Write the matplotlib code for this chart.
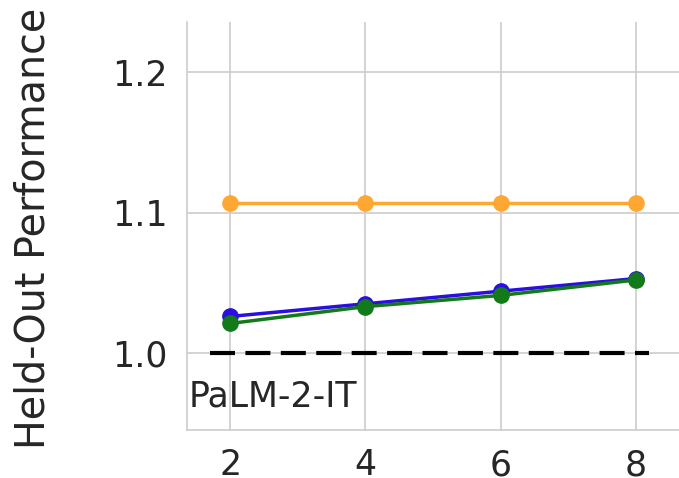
import matplotlib
matplotlib.use("Agg")
import matplotlib.pyplot as plt

x_vals = [2, 4, 6, 8]
orange_vals = [1.107, 1.107, 1.107, 1.107]
blue_vals = [1.026, 1.035, 1.044, 1.053]
green_vals = [1.021, 1.033, 1.041, 1.052]
baseline = 1.0
baseline_label = "PaLM-2-IT"
xticks = [2, 4, 6, 8]
yticks = [1.0, 1.1, 1.2]

fig = plt.figure(figsize=(6.79, 4.78), dpi=100)
ax = fig.add_axes([187/679, 48/478, 492/679, 408/478])

ax.plot(x_vals, orange_vals, color="#FFA733", lw=2.5, marker="o", ms=11, zorder=3)
ax.plot(x_vals, blue_vals, color="#2A0FE0", lw=2.5, marker="o", ms=11, zorder=3)
ax.plot(x_vals, green_vals, color="#137A1A", lw=2.5, marker="o", ms=11, zorder=4)
ax.plot([1.7, 8.2], [baseline, baseline], color="black", lw=3, ls=(0, (6, 2.5)), zorder=5)
ax.text(1.38, 0.969, baseline_label, fontsize=25, color="#262626", va="center", ha="left")

ax.set_xlim(1.36, 8.64)
ax.set_ylim(0.945, 1.236)
ax.set_xticks(xticks)
ax.set_yticks(yticks)
ax.set_yticklabels([f"{v:.1f}" for v in yticks])
ax.grid(True, color="#cccccc", lw=1.2)
ax.set_axisbelow(True)
for s in ["top", "right"]:
    ax.spines[s].set_visible(False)
for s in ["left", "bottom"]:
    ax.spines[s].set_color("#cccccc")
    ax.spines[s].set_linewidth(1.2)
ax.tick_params(axis="both", length=0, labelsize=25, colors="#262626")
ax.tick_params(axis="y", pad=14)
ax.tick_params(axis="x", pad=13)
fig.text(34/679, 1 - 228/478, "Held-Out Performance", fontsize=28.5, color="#262626",
         rotation=90, ha="center", va="center")

fig.savefig("out.png", dpi=100)
